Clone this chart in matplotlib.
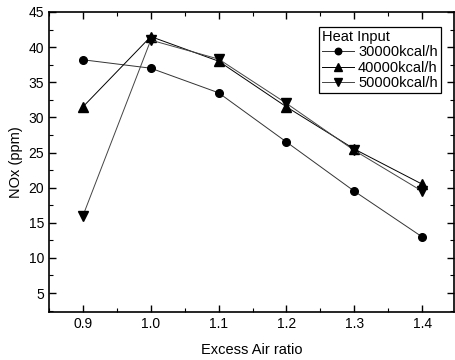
import matplotlib
matplotlib.use("Agg")
import matplotlib.pyplot as plt
from matplotlib.ticker import MultipleLocator

plt.rcParams['font.family'] = ['Liberation Sans', 'DejaVu Sans']

excess_air = [0.9, 1.0, 1.1, 1.2, 1.3, 1.4]
nox_30000 = [38.2, 37.0, 33.5, 26.5, 19.5, 13.0]
nox_40000 = [31.5, 41.5, 38.0, 31.5, 25.5, 20.5]
nox_50000 = [16.0, 41.0, 38.3, 32.0, 25.3, 19.5]
labels = ['30000kcal/h', '40000kcal/h', '50000kcal/h']

fig = plt.figure(figsize=(4.56, 3.6), dpi=100)
ax = fig.add_axes([0.1075, 0.1333, 0.888, 0.8334])

ax.plot(excess_air, nox_30000, color='#333333', lw=0.7, marker='o', ms=5.5, mfc='black', mec='black', label=labels[0])
ax.plot(excess_air, nox_40000, color='black', lw=0.7, marker='^', ms=6.5, mfc='black', mec='black', label=labels[1])
ax.plot(excess_air, nox_50000, color='#444444', lw=0.7, marker='v', ms=6.5, mfc='black', mec='black', label=labels[2])

ax.set_xlim(0.85, 1.447)
ax.set_ylim(2.3, 45)
ax.xaxis.set_major_locator(MultipleLocator(0.1))
ax.xaxis.set_minor_locator(MultipleLocator(0.05))
ax.yaxis.set_major_locator(MultipleLocator(5))
ax.yaxis.set_minor_locator(MultipleLocator(2.5))
ax.set_yticks([5, 10, 15, 20, 25, 30, 35, 40, 45])
ax.tick_params(which='both', direction='in', top=True, right=True, labelsize=10)
ax.tick_params(which='major', length=5, width=1)
ax.tick_params(which='minor', length=3, width=0.8)
for s in ax.spines.values():
    s.set_linewidth(1.2)

ax.set_xlabel('Excess Air ratio', fontsize=10.5, labelpad=9)
ax.set_ylabel('NOx (ppm)', fontsize=10.5, labelpad=4)

leg = ax.legend(title='Heat Input', loc='upper right', fontsize=10.5, title_fontsize=10.5,
                frameon=True, fancybox=False, edgecolor='black', framealpha=1,
                borderpad=0.2, labelspacing=0.1, handlelength=2.2, handletextpad=0.3,
                markerscale=0.85, bbox_to_anchor=(0.985, 0.975))
leg._legend_box.align = 'left'
leg.get_frame().set_linewidth(0.9)

fig.savefig('out.png', dpi=100)
